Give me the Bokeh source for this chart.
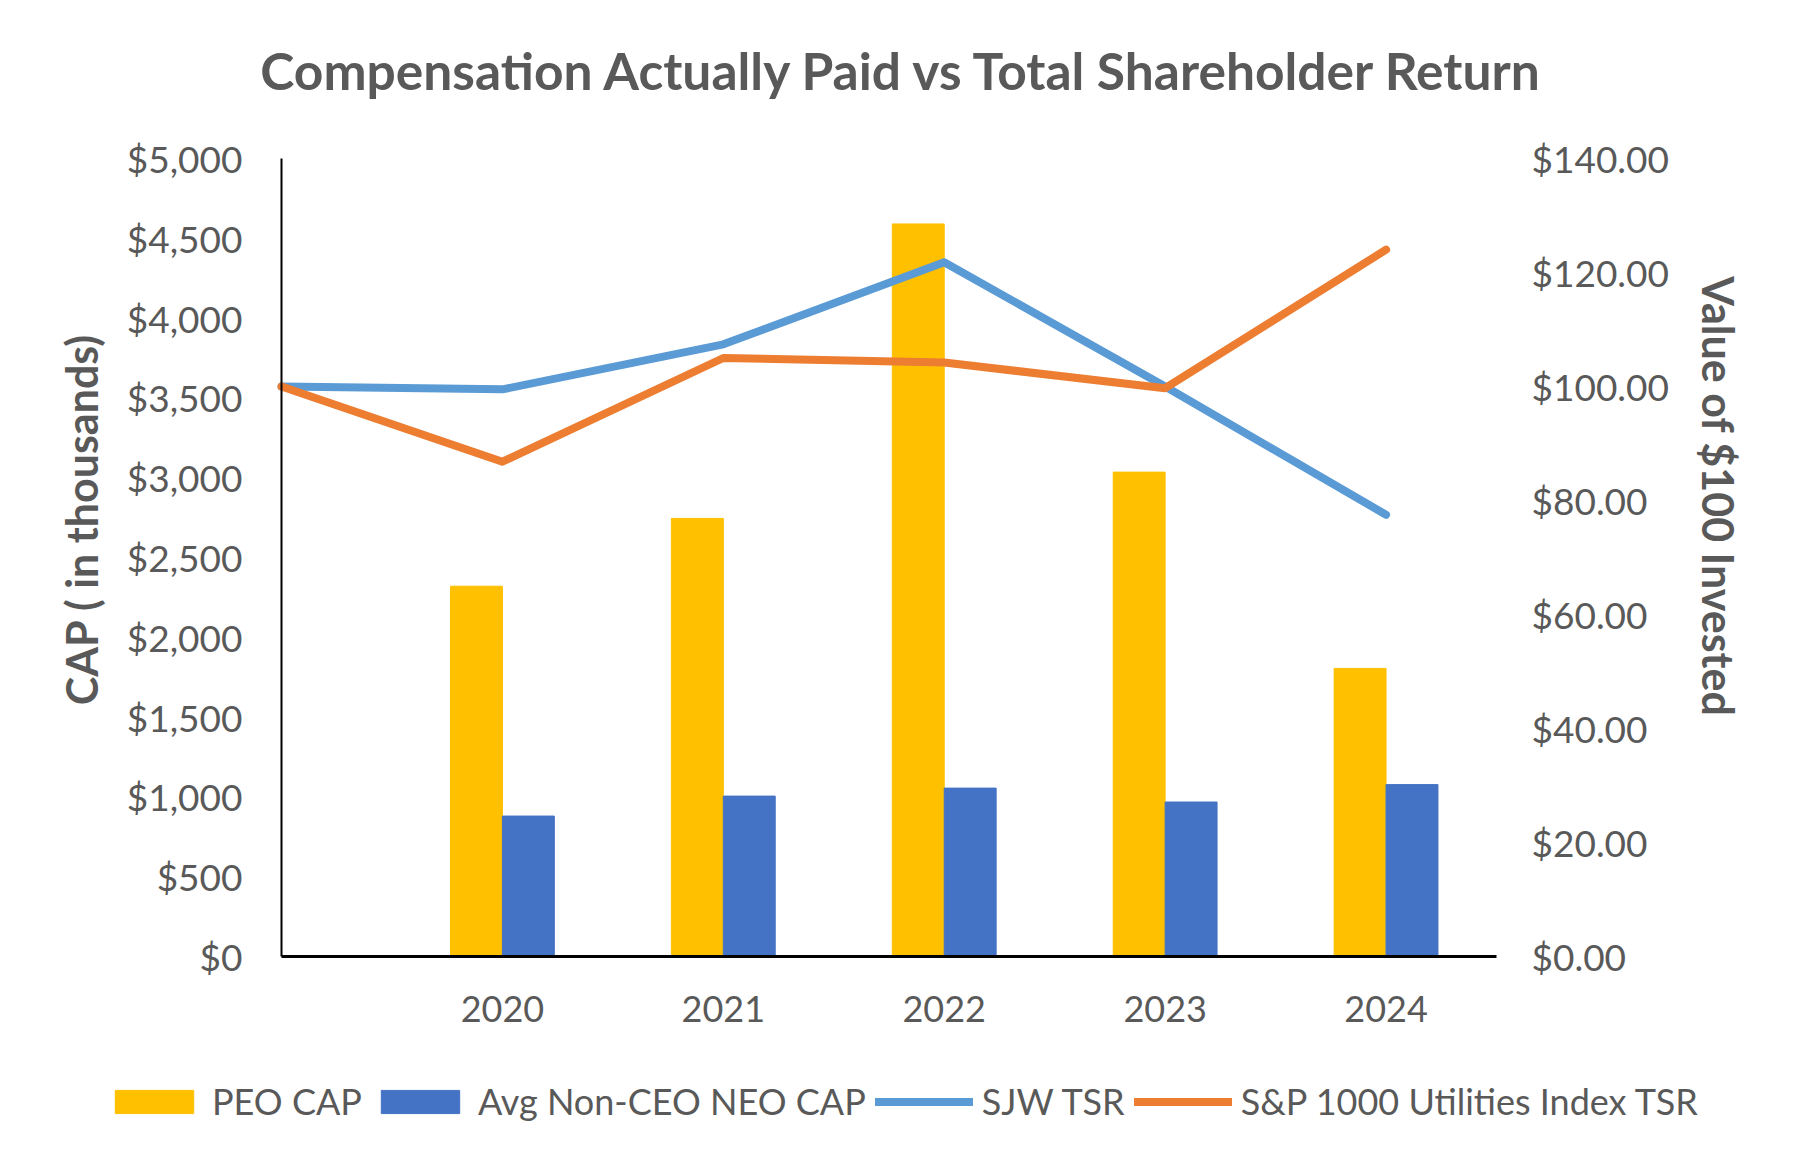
import math
from bokeh.plotting import figure
from bokeh.models import (Range1d, LinearAxis, FixedTicker, NumeralTickFormatter,
                          Legend, LegendItem, Label)
from bokeh.embed import file_html
from bokeh.resources import INLINE

# ---- data ----
line_years = ["2019", "2020", "2021", "2022", "2023", "2024"]   # 2019 = base year (unlabelled)
year_labels = ["", "2020", "2021", "2022", "2023", "2024"]
bar_years = ["2020", "2021", "2022", "2023", "2024"]
peo_cap = [2320, 2745, 4590, 3035, 1805]
neo_cap = [880, 1005, 1055, 968, 1077]
sjw_tsr = [100.0, 99.5, 107.4, 121.8, 100.0, 77.5]
sp_tsr = [100.0, 86.8, 105.0, 104.2, 99.7, 124.0]
left_ticks = list(range(0, 5001, 500))
right_ticks = list(range(0, 141, 20))

GREY = "#595959"
FONT = "Lato"

# ---- layout (pixels on the canvas) ----
W, H = 1789, 1151
PL, PR, PT, PB = 281, 1496, 158, 956     # plotting area of the chart
X_MAX, Y_MAX, Y2_MAX = 5.5, 5000, 140

def extend(lo_px, hi_px, vmax, lo_edge, hi_edge):
    scale = vmax / (hi_px - lo_px)
    return Range1d(-(lo_px - lo_edge) * scale, vmax + (hi_edge - hi_px) * scale)

x_range = extend(PL, PR, X_MAX, 0, W)
y_range = extend(H - PB, H - PT, Y_MAX, 0, H)
y2_range = extend(H - PB, H - PT, Y2_MAX, 0, H)

x_line = list(range(len(line_years)))
x_bar = [line_years.index(y) for y in bar_years]

p = figure(width=W, height=H, output_backend="svg", toolbar_location=None,
           x_range=x_range, y_range=y_range,
           min_border_left=0, min_border_right=0, min_border_top=0, min_border_bottom=0)
p.outline_line_color = None
p.xgrid.visible = False
p.ygrid.visible = False
p.background_fill_color = "white"
p.border_fill_color = "white"
p.extra_y_ranges = {"tsr": y2_range}

bw = 0.235
r_peo = p.vbar(x=[v - bw / 2 for v in x_bar], top=peo_cap, width=bw, color="#FFC000")
r_neo = p.vbar(x=[v + bw / 2 for v in x_bar], top=neo_cap, width=bw, color="#4472C4")
r_sjw = p.line(x_line, sjw_tsr, y_range_name="tsr", color="#5B9BD5", line_width=8,
               line_join="round", line_cap="round")
r_sp = p.line(x_line, sp_tsr, y_range_name="tsr", color="#ED7D31", line_width=8,
              line_join="round", line_cap="round")

# x axis
xa = p.xaxis[0]
xa.fixed_location = 0
xa.bounds = (0, X_MAX)
xa.ticker = FixedTicker(ticks=x_line[1:])
xa.major_label_overrides = {i: lab for i, lab in zip(x_line, year_labels)}
xa.major_tick_line_color = None
xa.minor_tick_line_color = None
xa.axis_line_color = "black"
xa.axis_line_width = 3
xa.major_label_standoff = 33
xa.major_label_text_font = FONT
xa.major_label_text_font_size = "36px"
xa.major_label_text_color = GREY

# left axis
ya = p.yaxis[0]
ya.fixed_location = 0
ya.bounds = (0, Y_MAX)
ya.ticker = FixedTicker(ticks=left_ticks)
ya.formatter = NumeralTickFormatter(format="$0,0")
ya.major_tick_line_color = None
ya.minor_tick_line_color = None
ya.axis_line_color = "black"
ya.axis_line_width = 2
ya.major_label_standoff = 33
ya.major_label_text_font = FONT
ya.major_label_text_font_size = "37px"
ya.major_label_text_color = GREY

# right axis
ra = LinearAxis(y_range_name="tsr", ticker=FixedTicker(ticks=right_ticks),
                formatter=NumeralTickFormatter(format="$0,0.00"),
                fixed_location=X_MAX, bounds=(0, Y2_MAX))
ra.axis_line_color = None
ra.major_tick_line_color = None
ra.minor_tick_line_color = None
ra.major_label_standoff = 29
ra.major_label_text_font = FONT
ra.major_label_text_font_size = "37px"
ra.major_label_text_color = GREY
p.add_layout(ra, "right")

# titles (screen units from the bottom-left corner)
p.add_layout(Label(x=903, y=H - 69, x_units="screen", y_units="screen",
                   text="Compensation Actually Paid vs Total Shareholder Return",
                   text_align="center", text_baseline="middle", text_font=FONT,
                   text_font_style="bold", text_font_size="51.5px", text_color=GREY))
p.add_layout(Label(x=81, y=H - 519, x_units="screen", y_units="screen",
                   text="CAP ( in thousands)", angle=math.pi / 2,
                   text_align="center", text_baseline="middle", text_font=FONT,
                   text_font_style="bold", text_font_size="43px", text_color=GREY))
p.add_layout(Label(x=1718, y=H - 496, x_units="screen", y_units="screen",
                   text="Value of $100 Invested", angle=-math.pi / 2,
                   text_align="center", text_baseline="middle", text_font=FONT,
                   text_font_style="bold", text_font_size="43px", text_color=GREY))

# legend
legend = Legend(items=[
    LegendItem(label="PEO CAP", renderers=[r_peo]),
    LegendItem(label="Avg Non-CEO NEO CAP", renderers=[r_neo]),
    LegendItem(label="SJW TSR", renderers=[r_sjw]),
    LegendItem(label="S&P 1000 Utilities Index TSR", renderers=[r_sp]),
], orientation="horizontal", location=(105, 28))
legend.glyph_width = 98
legend.glyph_height = 29
legend.label_standoff = 9
legend.spacing = 9
legend.padding = 0
legend.margin = 0
legend.border_line_color = None
legend.background_fill_alpha = 0
legend.label_text_font = FONT
legend.label_text_font_size = "36px"
legend.label_text_color = GREY
p.add_layout(legend, "center")

open("out.html", "w").write(file_html(p, INLINE))
